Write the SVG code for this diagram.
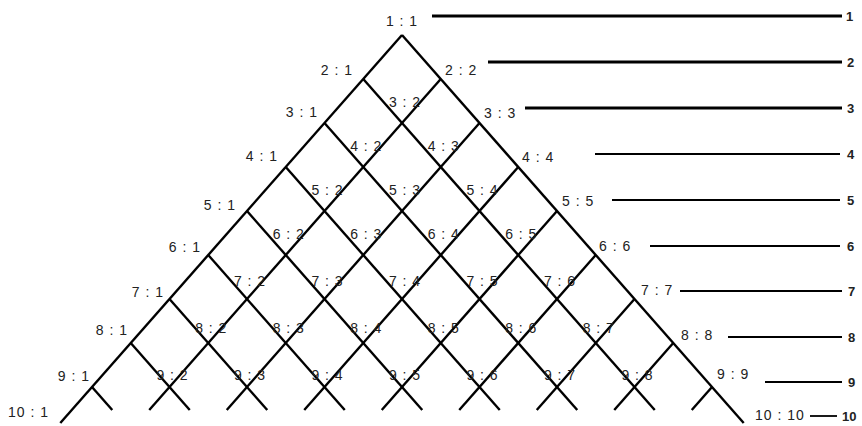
<svg xmlns="http://www.w3.org/2000/svg" width="862" height="426" viewBox="0 0 862 426">
<style>
  .lat line { stroke: #000; stroke-width: 2.4; stroke-linecap: butt; }
  .scale line { stroke: #000; }
  .thick { stroke-width: 3; }
  .thin { stroke-width: 1.8; }
  text { font-family: "Liberation Sans", Arial, sans-serif; font-size: 14px; fill: #222; letter-spacing: 1px; }
  .l { text-anchor: end; }
  .r { text-anchor: start; }
  .m { text-anchor: middle; }
  .num { font-weight: bold; fill: #222; letter-spacing: 0; font-size: 13px; }
</style>
<rect width="862" height="426" fill="#fff"/>
<g id="connectors" class="lat">
  <line x1="402" y1="35" x2="60.3" y2="423"/>
  <line x1="402" y1="35" x2="743.7" y2="423"/>
  <line x1="440.75" y1="79" x2="149.25" y2="410"/>
  <line x1="479.5" y1="123" x2="226.75" y2="410"/>
  <line x1="518.25" y1="167" x2="304.25" y2="410"/>
  <line x1="557" y1="211" x2="381.75" y2="410"/>
  <line x1="595.75" y1="255" x2="459.25" y2="410"/>
  <line x1="634.5" y1="299" x2="536.75" y2="410"/>
  <line x1="673.25" y1="343" x2="614.25" y2="410"/>
  <line x1="712" y1="387" x2="691.75" y2="410"/>
  <line x1="363.25" y1="79" x2="654.75" y2="410"/>
  <line x1="324.5" y1="123" x2="577.25" y2="410"/>
  <line x1="285.75" y1="167" x2="499.75" y2="410"/>
  <line x1="247" y1="211" x2="422.25" y2="410"/>
  <line x1="208.25" y1="255" x2="344.75" y2="410"/>
  <line x1="169.5" y1="299" x2="267.25" y2="410"/>
  <line x1="130.75" y1="343" x2="189.75" y2="410"/>
  <line x1="92" y1="387" x2="112.25" y2="410"/>
</g>
<g id="scale" class="scale">
  <line class="thick" x1="432" y1="16" x2="842" y2="16"/>
  <line class="thick" x1="488" y1="62" x2="842" y2="62"/>
  <line class="thick" x1="525" y1="108" x2="842" y2="108"/>
  <line class="thin" x1="595" y1="154" x2="840" y2="154"/>
  <line class="thin" x1="612" y1="200" x2="840" y2="200"/>
  <line class="thin" x1="650" y1="246" x2="840" y2="246"/>
  <line class="thin" x1="680" y1="291" x2="842" y2="291"/>
  <line class="thin" x1="728" y1="337" x2="842" y2="337"/>
  <line class="thin" x1="765" y1="382" x2="842" y2="382"/>
  <line class="thin" x1="810" y1="416" x2="837" y2="416"/>
  <text class="num" x="846" y="21">1</text>
  <text class="num" x="847" y="67">2</text>
  <text class="num" x="847" y="113">3</text>
  <text class="num" x="847" y="159">4</text>
  <text class="num" x="847" y="205">5</text>
  <text class="num" x="847" y="251">6</text>
  <text class="num" x="848" y="296">7</text>
  <text class="num" x="848" y="342">8</text>
  <text class="num" x="848" y="387">9</text>
  <text class="num" x="842" y="421">10</text>
</g>
<g id="n1-1"><text class="m" x="402" y="26">1 : 1</text></g>
<g id="n2-1"><text class="l" x="353" y="75">2 : 1</text></g>
<g id="n2-2"><text class="r" x="445" y="75">2 : 2</text></g>
<g id="n3-1"><text class="l" x="318" y="117">3 : 1</text></g>
<g id="n3-2"><text class="m" x="405" y="107">3 : 2</text></g>
<g id="n3-3"><text class="r" x="484" y="118">3 : 3</text></g>
<g id="n4-1"><text class="l" x="278" y="161">4 : 1</text></g>
<g id="n4-2"><text class="m" x="366.25" y="151">4 : 2</text></g>
<g id="n4-3"><text class="m" x="443.75" y="151">4 : 3</text></g>
<g id="n4-4"><text class="r" x="522" y="162">4 : 4</text></g>
<g id="n5-1"><text class="l" x="236" y="210">5 : 1</text></g>
<g id="n5-2"><text class="m" x="327.5" y="195">5 : 2</text></g>
<g id="n5-3"><text class="m" x="405" y="195">5 : 3</text></g>
<g id="n5-4"><text class="m" x="482.5" y="195">5 : 4</text></g>
<g id="n5-5"><text class="r" x="562" y="206">5 : 5</text></g>
<g id="n6-1"><text class="l" x="201" y="252">6 : 1</text></g>
<g id="n6-2"><text class="m" x="288.75" y="239">6 : 2</text></g>
<g id="n6-3"><text class="m" x="366.25" y="239">6 : 3</text></g>
<g id="n6-4"><text class="m" x="443.75" y="239">6 : 4</text></g>
<g id="n6-5"><text class="m" x="521.25" y="239">6 : 5</text></g>
<g id="n6-6"><text class="r" x="599" y="251">6 : 6</text></g>
<g id="n7-1"><text class="l" x="164" y="297">7 : 1</text></g>
<g id="n7-2"><text class="m" x="250" y="286">7 : 2</text></g>
<g id="n7-3"><text class="m" x="327.5" y="286">7 : 3</text></g>
<g id="n7-4"><text class="m" x="405" y="286">7 : 4</text></g>
<g id="n7-5"><text class="m" x="482.5" y="286">7 : 5</text></g>
<g id="n7-6"><text class="m" x="560" y="286">7 : 6</text></g>
<g id="n7-7"><text class="r" x="641" y="295">7 : 7</text></g>
<g id="n8-1"><text class="l" x="128" y="335">8 : 1</text></g>
<g id="n8-2"><text class="m" x="211.25" y="333">8 : 2</text></g>
<g id="n8-3"><text class="m" x="288.75" y="333">8 : 3</text></g>
<g id="n8-4"><text class="m" x="366.25" y="333">8 : 4</text></g>
<g id="n8-5"><text class="m" x="443.75" y="333">8 : 5</text></g>
<g id="n8-6"><text class="m" x="521.25" y="333">8 : 6</text></g>
<g id="n8-7"><text class="m" x="598.75" y="333">8 : 7</text></g>
<g id="n8-8"><text class="r" x="681" y="340">8 : 8</text></g>
<g id="n9-1"><text class="l" x="90" y="381">9 : 1</text></g>
<g id="n9-2"><text class="m" x="172.5" y="380">9 : 2</text></g>
<g id="n9-3"><text class="m" x="250" y="380">9 : 3</text></g>
<g id="n9-4"><text class="m" x="327.5" y="380">9 : 4</text></g>
<g id="n9-5"><text class="m" x="405" y="380">9 : 5</text></g>
<g id="n9-6"><text class="m" x="482.5" y="380">9 : 6</text></g>
<g id="n9-7"><text class="m" x="560" y="380">9 : 7</text></g>
<g id="n9-8"><text class="m" x="637.5" y="380">9 : 8</text></g>
<g id="n9-9"><text class="r" x="717" y="379">9 : 9</text></g>
<g id="n10-1"><text class="l" x="49" y="417">10 : 1</text></g>
<g id="n10-10"><text class="r" x="755" y="420">10 : 10</text></g>
</svg>
